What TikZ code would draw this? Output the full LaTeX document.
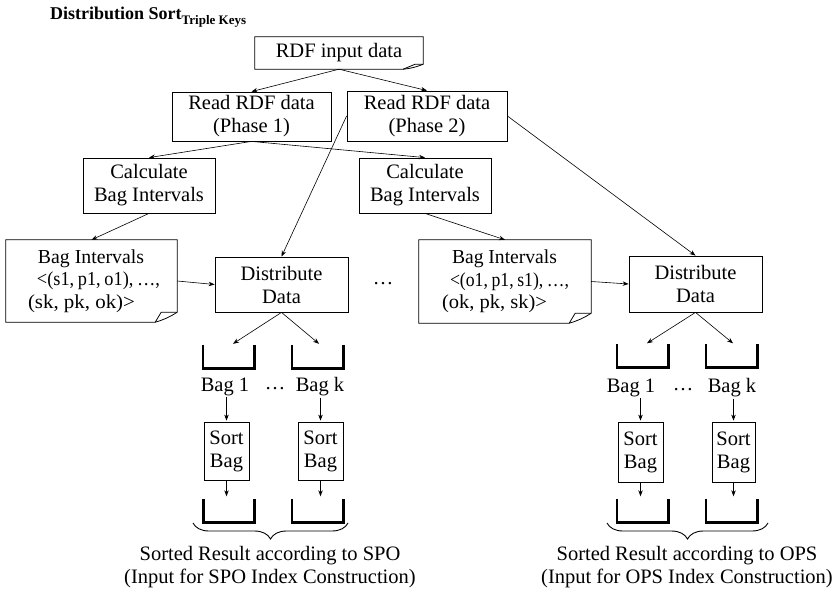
\documentclass[tikz,border=0pt]{standalone}
\usepackage{fontspec}
\usepackage{graphicx}
\setmainfont{Liberation Serif}
\usetikzlibrary{arrows.meta,decorations.pathreplacing}

% outline of a note with a curled lower right corner:
% #1 node name, #2 fold width, #3 fold height, #4 inner crease offset
\newcommand\noteframe[4]{%
  \draw[boxline] (#1.north west) -- (#1.north east) -- ([yshift=#3]#1.south east)
    to[bend left=8] ([xshift=-#2]#1.south east) -- (#1.south west) -- cycle;
  \draw[boxline] ([xshift=-#2]#1.south east) -- ([xshift=-#4,yshift=#3]#1.south east)
    -- ([yshift=#3]#1.south east);}
% open bag drawn as a thick U
\newcommand\bagframe[1]{%
  \draw[bagline] (#1.north west) -- (#1.south west) -- (#1.south east) -- (#1.north east);}
% one line of a note: box width, indent, set width of the text, text
\newcommand\noteline[4]{\makebox[#1][l]{\hspace*{#2}\resizebox{#3}{\height}{#4}}}
\newcommand\tightsp{\spaceskip=0.2em\relax}

\begin{document}
\begin{tikzpicture}[x=1pt,y=-1pt,
  font=\fontsize{20.5}{23}\selectfont,
  boxline/.style={line width=0.8pt},
  stepbox/.style={draw,line width=0.8pt,inner sep=0pt,align=center},
  notebox/.style={inner sep=0pt,align=left,font=\fontsize{19.8}{22.5}\selectfont},
  bagbox/.style={inner sep=0pt,minimum width=51pt,minimum height=23pt},
  bagtag/.style={inner sep=1pt},
  arr/.style={-{Stealth[length=6pt,width=4.5pt]},line width=0.6pt},
  bagline/.style={line width=2.6pt,line join=miter},
  bracestyle/.style={decorate,decoration={brace,mirror,amplitude=16pt},line width=0.9pt}]

\useasboundingbox (0,0) rectangle (835,594);

% heading
\node[anchor=base west,inner sep=0pt,font=\fontsize{18}{20}\selectfont\bfseries] (title) at (50,20)
  {Distribution Sort\raisebox{-5pt}{\fontsize{13}{13}\selectfont Triple Keys}};

% input and the two reading phases
\node[notebox,align=center,font=\fontsize{20.5}{23}\selectfont,minimum width=168pt,minimum height=32pt] (rdf) at (339,53) {RDF input data};
\node[stepbox,minimum width=159pt,minimum height=49pt] (p1) at (251.5,116.5) {Read RDF data\\(Phase 1)};
\node[stepbox,minimum width=160pt,minimum height=50pt] (p2) at (427,116) {Read RDF data\\(Phase 2)};

% interval calculation
\node[stepbox,minimum width=132pt,minimum height=55pt] (c1) at (149,185.5) {Calculate\\Bag Intervals};
\node[stepbox,minimum width=132pt,minimum height=55pt] (c2) at (425,185.5) {Calculate\\Bag Intervals};

% interval lists
\node[notebox,minimum height=82pt] (bi1) at (91.5,281)
  {\noteline{171pt}{32pt}{106pt}{Bag Intervals}\\
   \noteline{171pt}{31pt}{123pt}{\tightsp<(s1, p1, o1), …,}\\
   \noteline{171pt}{22pt}{107pt}{(sk, pk, ok)>}};
\node[notebox,minimum height=83pt] (bi2) at (505,281.5)
  {\noteline{172pt}{33pt}{105pt}{Bag Intervals}\\
   \noteline{172pt}{31pt}{119pt}{\tightsp<(o1, p1, s1), …,}\\
   \noteline{172pt}{23pt}{105pt}{(ok, pk, sk)>}};

% distribution steps
\node[stepbox,minimum width=133pt,minimum height=55pt] (d1) at (281.5,284.5) {Distribute\\Data};
\node[stepbox,minimum width=133pt,minimum height=56pt] (d2) at (695.5,284) {Distribute\\Data};
\node[inner sep=0pt] (dmid) at (383,284) {…};

% bags, SPO side
\node[bagbox] (b1a) at (228.5,356.5) {};
\node[bagbox] (bka) at (317.5,356.5) {};
\node[bagtag] (t1a) at (225,387) {Bag 1};
\node[bagtag] (tka) at (320,387) {Bag k};
\node[inner sep=0pt] (tda) at (275,389) {…};
\node[stepbox,minimum width=45pt,minimum height=58pt] (s1a) at (226.5,451) {Sort\\Bag};
\node[stepbox,minimum width=45pt,minimum height=58pt] (ska) at (320.5,451) {Sort\\Bag};
\node[bagbox] (o1a) at (229,511) {};
\node[bagbox] (oka) at (317.5,511) {};

% bags, OPS side
\node[bagbox] (b1b) at (642.5,356) {};
\node[bagbox] (bkb) at (731.5,356) {};
\node[bagtag] (t1b) at (631,388) {Bag 1};
\node[bagtag] (tkb) at (732,388) {Bag k};
\node[inner sep=0pt] (tdb) at (683,390) {…};
\node[stepbox,minimum width=45pt,minimum height=60pt] (s1b) at (640.5,452) {Sort\\Bag};
\node[stepbox,minimum width=43pt,minimum height=60pt] (skb) at (733.5,452) {Sort\\Bag};
\node[bagbox] (o1b) at (642.5,511) {};
\node[bagbox] (okb) at (731.5,511) {};

% results
\node[align=center,inner sep=0pt] (res1) at (270,567)
  {Sorted Result according to SPO\\(Input for SPO Index Construction)};
\node[align=center,inner sep=0pt] (res2) at (687,567)
  {Sorted Result according to OPS\\(Input for OPS Index Construction)};

% note outlines and bags
\noteframe{rdf}{20pt}{5pt}{8pt}
\noteframe{bi1}{22pt}{10pt}{16pt}
\noteframe{bi2}{22pt}{10pt}{16pt}
\foreach \b in {b1a,bka,o1a,oka,b1b,bkb,o1b,okb} {\bagframe{\b}}

% braces over the sorted bags
\draw[bracestyle] (193,523) -- (348,523);
\draw[bracestyle] (607,523) -- (768,523);

% connectors
\draw[arr] (rdf.south) -- (p1.north);
\draw[arr] (rdf.south) -- (p2.north);
\draw[arr] (p1.south) -- (c1.north);
\draw[arr] (p1.south) -- (c2.north);
\draw[arr] (p2.west) -- (d1.north);
\draw[arr] (p2.east) -- (d2.north);
\draw[arr] (c1.south) -- (bi1.north);
\draw[arr] (c2.south) -- (bi2.north);
\draw[arr] (bi1.east) -- (d1.west);
\draw[arr] (bi2.east) -- (d2.west);

\draw[arr] (d1.south) -- ([xshift=4.5pt,yshift=1pt]b1a.north);
\draw[arr] (d1.south) -- ([xshift=1.5pt,yshift=1pt]bka.north);
\draw[arr] (d2.south) -- ([xshift=4.5pt,yshift=1pt]b1b.north);
\draw[arr] (d2.south) -- ([xshift=1.5pt,yshift=1pt]bkb.north);

\foreach \t/\s/\o in {t1a/s1a/o1a,tka/ska/oka,t1b/s1b/o1b,tkb/skb/okb} {
  \draw[arr] (\s.north |- \t.south) -- ([yshift=1pt]\s.north);
  \draw[arr] (\s.south) -- ([yshift=3pt]\s.south |- \o.north);
}
\end{tikzpicture}
\end{document}
